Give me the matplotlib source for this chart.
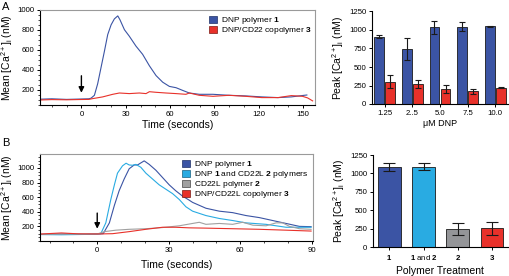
import numpy as np
import matplotlib
matplotlib.use("Agg")
import matplotlib.pyplot as plt
from matplotlib.patches import Patch
from matplotlib.ticker import MultipleLocator

plt.rcParams['font.family'] = ['Liberation Sans', 'DejaVu Sans']
plt.rcParams['mathtext.fontset'] = 'custom'
plt.rcParams['mathtext.rm'] = 'Liberation Sans'
plt.rcParams['mathtext.it'] = 'Liberation Sans:italic'
plt.rcParams['mathtext.bf'] = 'Liberation Sans:bold'

# ---------- data ----------
# A: time course (s) vs mean [Ca2+]i (nM)
a_t_dnp = [-28, -20, -10, 0, 5, 6.5, 8.8, 11, 13.3, 15.6, 17.8, 20.1, 22.3, 24.6, 26.1,
           29.1, 32.4, 36.9, 41.4, 46, 50.5, 55, 59.5, 64, 68.5, 73, 79.7, 88.9, 99.8,
           111, 122, 133, 142, 150.7, 152.5]
a_v_dnp = [108, 112, 106, 110, 112, 118, 147, 262, 426, 590, 754, 852, 911, 941, 902,
           803, 738, 639, 557, 442, 344, 278, 236, 223, 196, 170, 157, 157, 147,
           141, 131, 124, 131, 147, 150]
a_t_cop = [-28, -20, -10, 0, 5, 7.7, 14.4, 21.2, 25.7, 32.4, 39.2, 43.7, 46, 50.5, 57.2,
           64, 70.7, 73, 79.7, 89, 99.8, 111, 122, 133, 142, 149.5, 153, 156.4]
a_v_cop = [100, 104, 102, 105, 106, 114, 131, 157, 170, 164, 170, 164, 183, 177, 170,
           164, 157, 170, 147, 137, 147, 137, 124, 124, 144, 137, 121, 91]

# A: peak [Ca2+]i vs DNP concentration
dnp_conc = ["1.25", "2..5", "5.0", "7.5", "10.0"]
peak_dnp = [909, 742, 1035, 1044, 1048]
err_dnp = [20, 146, 83, 61, 10]
peak_cop = [301, 265, 202, 171, 220]
err_cop = [88, 55, 50, 36, 10]

# B: time course
b_t1 = [-24, -15, -5, 0, 2.5, 5.1, 7.2, 9.2, 11.3, 13.4, 15.5, 16.9, 19.7, 21.8, 24.6,
        27.4, 30.2, 32.9, 35.7, 38.5, 40, 45.6, 51.2, 56.8, 62.4, 68, 73.6, 79.2, 84.8, 89.7]
b_v1 = [90, 95, 92, 96, 100, 248, 488, 688, 848, 988, 1040, 1040, 1096, 1048, 968,
        868, 768, 688, 616, 560, 528, 448, 408, 388, 348, 320, 280, 240, 200, 196]
b_t12 = [-24, -15, -5, 0, 1.5, 3.6, 5.7, 7.2, 8.5, 10.6, 12.1, 13.4, 14.8, 16.2, 18.3,
         20.4, 23.2, 26, 28.8, 31.6, 34.4, 37.2, 40, 45.6, 51.2, 56.8, 62.4, 70.8, 79.2, 89.7]
b_v12 = [88, 85, 90, 95, 100, 248, 568, 768, 928, 1028, 1064, 1040, 1036, 1048, 1008,
         928, 848, 768, 708, 648, 568, 468, 408, 348, 308, 280, 248, 228, 188, 188]
b_t2 = [-24, -10, 0, 3, 7.8, 13.4, 20.4, 27.4, 34.4, 40, 42.8, 45.6, 51.2, 56.8, 61,
        65.3, 70.8, 75, 77.8, 80.6, 84.8, 89.7]
b_v2 = [92, 95, 96, 128, 148, 160, 168, 184, 208, 240, 256, 228, 240, 228, 256,
        216, 208, 248, 248, 200, 168, 160]
b_t3 = [-24, -15, -8, 0, 6.4, 13.4, 20.4, 27.4, 32.9, 38.5, 45.6, 56.8, 68, 79.2, 89.7]
b_v3 = [95, 110, 98, 96, 100, 128, 160, 188, 188, 180, 176, 168, 160, 148, 136]

# B: peak per treatment
treatments = ["$\\mathbf{1}$", "$\\mathbf{1}$ and $\\mathbf{2}$", "$\\mathbf{2}$", "$\\mathbf{3}$"]
peak_b = [1091, 1093, 250, 252]
err_b = [57, 45, 82, 84]

DARK = "#3b54a4"
LIGHT = "#29abe2"
GRAY = "#a0a0a0"
RED = "#e8312a"
BAR_GRAY = "#949598"

W, H = 510, 276
fig = plt.figure(figsize=(W / 100, H / 100), dpi=100)


def rect(l, t, r, b):
    return [l / W, 1 - b / H, (r - l) / W, (b - t) / H]


FS_TICK = 5.6
FS_LAB = 7.5
FS_LEG = 6.0


def style_line_ax(ax):
    for s in ["top", "right"]:
        ax.spines[s].set_color("#9a9a9a")
    for s in ax.spines.values():
        s.set_linewidth(0.8)
    ax.tick_params(labelsize=FS_TICK, length=2.5, width=0.7, pad=1.5)
    ax.tick_params(which="minor", length=1.5, width=0.5)
    ax.xaxis.set_minor_locator(MultipleLocator(10))
    ax.yaxis.set_minor_locator(MultipleLocator(50))


def style_bar_ax(ax):
    for s in ["top", "right"]:
        ax.spines[s].set_visible(False)
    for s in ["left", "bottom"]:
        ax.spines[s].set_linewidth(0.8)
    ax.tick_params(labelsize=FS_TICK, length=2.5, width=0.7, pad=1.5)
    ax.set_ylim(0, 1250)
    ax.set_yticks([0, 250, 500, 750, 1000, 1250])


ylab_mean = "Mean [Ca$^{2+}$]$_{\\mathrm{i}}$ (nM)"
ylab_peak = "Peak [Ca$^{2+}$]$_{\\mathrm{i}}$ (nM)"
leg_kw = dict(loc="upper left", frameon=False, fontsize=FS_LEG, handlelength=1.0,
              handleheight=0.9, handletextpad=0.5, labelspacing=-0.12, borderaxespad=0.2)

# ---------- A line ----------
ax = fig.add_axes(rect(40, 10, 315, 105))
ax.plot(a_t_dnp, a_v_dnp, color=DARK, lw=0.8)
ax.plot(a_t_cop, a_v_cop, color=RED, lw=0.8)
ax.set_xlim(-28, 158)
ax.set_ylim(50, 1000)
ax.set_xticks([0, 30, 60, 90, 120, 150])
ax.set_yticks([200, 400, 600, 800, 1000])
style_line_ax(ax)
ax.set_xlabel("Time (seconds)", fontsize=FS_LAB, labelpad=2)
ax.set_ylabel(ylab_mean, fontsize=FS_LAB, labelpad=2)
ax.annotate("", xy=(0, 145), xytext=(0, 370),
            arrowprops=dict(arrowstyle="-|>", color="k", lw=1, mutation_scale=8))
handles = [Patch(facecolor=DARK, edgecolor="#1f2f66", lw=0.5),
           Patch(facecolor=RED, edgecolor="#7a1a14", lw=0.5)]
ax.legend(handles, ["DNP polymer $\\mathbf{1}$", "DNP/CD22 copolymer $\\mathbf{3}$"],
          bbox_to_anchor=(0.595, 1.0), **leg_kw)
fig.text(2 / W, 1 - 7 / H, "A", fontsize=8, va="center")

# ---------- A bars ----------
ax = fig.add_axes(rect(372, 11.5, 508, 104))
x = np.arange(len(dnp_conc))
ax.bar(x - 0.2, peak_dnp, width=0.36, color=DARK, edgecolor="#1a1a1a", lw=0.6,
       yerr=err_dnp, error_kw=dict(ecolor="#1a1a1a", elinewidth=0.8, capsize=2.2, capthick=0.8))
ax.bar(x + 0.2, peak_cop, width=0.36, color=RED, edgecolor="#1a1a1a", lw=0.6,
       yerr=err_cop, error_kw=dict(ecolor="#1a1a1a", elinewidth=0.8, capsize=2.2, capthick=0.8))
ax.set_xlim(-0.47, 4.47)
ax.set_xticks(x)
ax.set_xticklabels(dnp_conc)
style_bar_ax(ax)
ax.set_xlabel("μM DNP", fontsize=6.5, labelpad=2)
ax.set_ylabel(ylab_peak, fontsize=FS_LAB, labelpad=2)

# ---------- B line ----------
ax = fig.add_axes(rect(40, 154, 313, 241))
ax.plot(b_t1, b_v1, color=DARK, lw=0.8)
ax.plot(b_t12, b_v12, color=LIGHT, lw=0.8)
ax.plot(b_t2, b_v2, color=GRAY, lw=0.8)
ax.plot(b_t3, b_v3, color=RED, lw=0.8)
ax.set_xlim(-24, 90.5)
ax.set_ylim(0, 1190)
ax.set_xticks([0, 30, 60, 90])
ax.set_yticks([200, 400, 600, 800, 1000])
style_line_ax(ax)
ax.set_xlabel("Time (seconds)", fontsize=FS_LAB, labelpad=5)
ax.set_ylabel(ylab_mean, fontsize=FS_LAB, labelpad=2)
ax.annotate("", xy=(0, 130), xytext=(0, 420),
            arrowprops=dict(arrowstyle="-|>", color="k", lw=1, mutation_scale=8))
handles = [Patch(facecolor=DARK, edgecolor="#1f2f66", lw=0.5),
           Patch(facecolor=LIGHT, edgecolor="#16607f", lw=0.5),
           Patch(facecolor=GRAY, edgecolor="#444444", lw=0.5),
           Patch(facecolor=RED, edgecolor="#7a1a14", lw=0.5)]
ax.legend(handles, ["DNP polymer $\\mathbf{1}$",
                    "DNP $\\mathbf{1}$ and CD22L $\\mathbf{2}$ polymers",
                    "CD22L polymer $\\mathbf{2}$",
                    "DNP/CD22L copolymer $\\mathbf{3}$"],
          bbox_to_anchor=(0.5, 1.0), **leg_kw)
fig.text(2 / W, 1 - 143 / H, "B", fontsize=8, va="center")

# ---------- B bars ----------
ax = fig.add_axes(rect(372.7, 155, 508, 247))
xb = np.arange(len(treatments))
ax.bar(xb, peak_b, width=0.66, color=[DARK, LIGHT, BAR_GRAY, RED], edgecolor="#1a1a1a",
       lw=0.6, yerr=err_b,
       error_kw=dict(ecolor="#1a1a1a", elinewidth=0.8, capsize=4.5, capthick=0.8))
ax.set_xlim(-0.49, 3.47)
ax.set_xticks(xb)
ax.set_xticklabels(treatments)
style_bar_ax(ax)
ax.set_xlabel("Polymer Treatment", fontsize=FS_LAB, labelpad=3)
ax.set_ylabel(ylab_peak, fontsize=FS_LAB, labelpad=2)

fig.savefig("out.png", dpi=100)
